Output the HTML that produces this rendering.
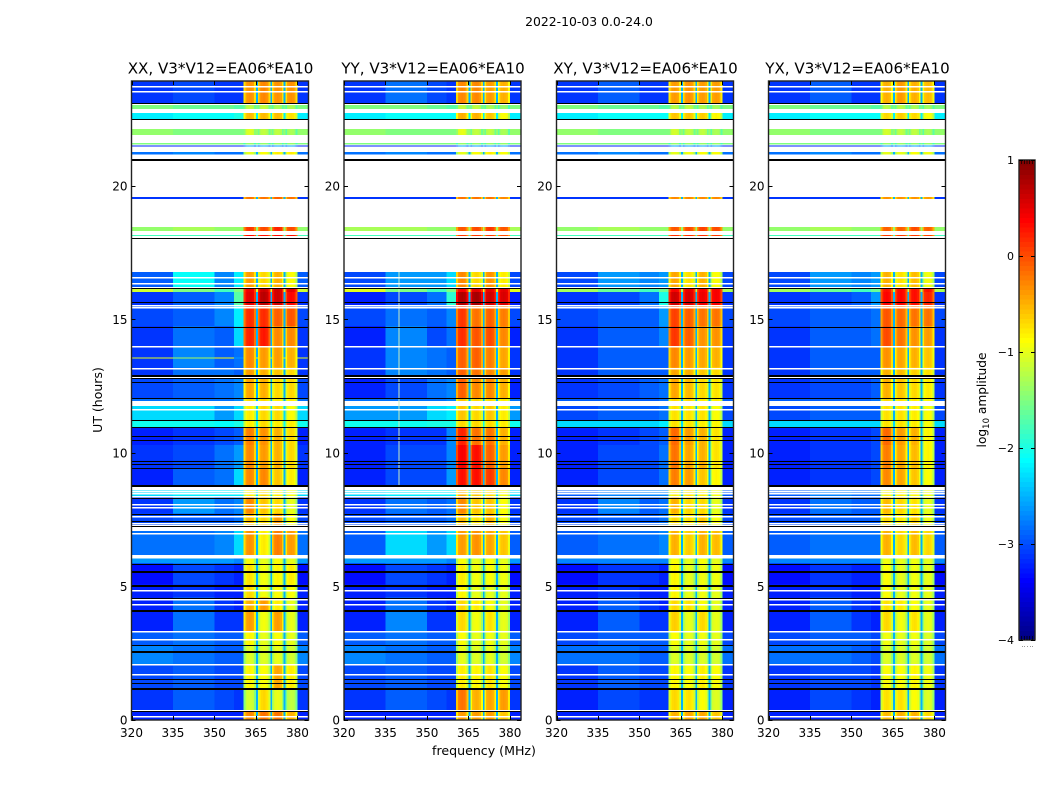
<!DOCTYPE html>
<html lang="en">
<head>
<meta charset="utf-8">
<title>2022-10-03 dynamic spectra</title>
<style>
html,body{margin:0;padding:0;background:#fff;width:1050px;height:800px;overflow:hidden}
svg{display:block}
text{font-family:"DejaVu Sans","Liberation Sans",sans-serif;fill:#000}
</style>
</head>
<body>
<svg id="figure" xmlns="http://www.w3.org/2000/svg" width="1050" height="800" viewBox="0 0 1050 800">
  <rect x="0" y="0" width="1050" height="800" fill="#fff"/>
  <text x="589" y="26" font-size="12.4" text-anchor="middle">2022-10-03 0.0-24.0</text>
  <text x="0" y="0" font-size="12.5" text-anchor="middle" transform="translate(102,400) rotate(-90)">UT (hours)</text>
  <text x="484" y="755" font-size="12.6" text-anchor="middle">frequency (MHz)</text>
  <text x="0" y="0" font-size="12.2" text-anchor="middle" transform="translate(986,400) rotate(-90)">log<tspan font-size="8.5" dy="3">10</tspan><tspan dy="-3"> amplitude</tspan></text>
  <g id="panels"></g>
  <g id="colorbar"></g>
</svg>
<script>
// ---- axis ranges and tick labels ----
const valueMin = -4;
const valueMax = 1;
const freqMin = 320;
const freqMax = 384;
const hourMin = 0;
const hourMax = 23.93;
const freqTicks = [320, 335, 350, 365, 380];
const hourTicks = [0, 5, 10, 15, 20];
const colorbarTicks = [1, 0, -1, -2, -3, -4];
const panelTitles = ['XX, V3*V12=EA06*EA10', 'YY, V3*V12=EA06*EA10', 'XY, V3*V12=EA06*EA10', 'YX, V3*V12=EA06*EA10'];

// ---- frequency structure (MHz) ----
const backgroundEdges = [320, 335, 350, 357, 360.5];
const bandEdges = [[360.5, 365], [365.6, 370.2], [370.7, 375], [375.6, 380]];
const gapEdges = [[365, 365.6], [370.2, 370.7], [375, 375.6]];
const rightEdges = [380, 384];
const bandShape = [-0.38, -0.06, 0, 0.03, 0, -0.06, -0.38];
const gapLevel = -2.5;
const rfiChannelYY = 340;
// quiet-sky levels below read about this much lower once the speckle is averaged by eye
const noiseFloorThreshold = -2.4;
const noiseFloorCorrection = -0.22;

// ---- time structure (UT hours): each entry is one observed block, top to bottom ----
const blockHours = [
[23.93,23.11],[23.03,22.88],[22.73,22.51],[22.13,21.91],[21.61,21.55],[21.51,21.47],[21.27,21.18],[19.58,19.51],
[18.46,18.31],[18.17,18.12],[16.77,16.21],[16.14,16.02],[16.02,15.54],[15.54,14.76],[14.76,14.0],[14.0,13.21],
[13.57,13.53],[13.21,12.87],[12.87,12.05],[12.05,11.95],[11.75,11.23],[11.23,10.96],[10.96,10.29],[10.29,9.43],
[9.43,8.79],[8.6,8.34],[8.34,7.74],[7.74,7.25],[7.07,6.17],[6.04,5.87],[5.87,5.08],[5.08,4.59],
[4.59,4.1],[4.1,3.32],[3.32,2.79],[2.79,2.08],[2.08,1.18],[1.18,0.37],[0.32,0]
];
const whiteLineHours = [23.76,23.56,16.59,16.37,15.56,15.45,14.01,13.2,12.85,11.66,8.58,8.5,8.4,8.1,7.98,7.63,7.38,7.32,7.0,4.85,4.54,4.36,3.32,3.04,2.08,1.73,0.14];
const blackLineHours = [23.1,22.51,18.04,16.19,15.66,14.72,12.79,12.64,12.06,11.25,10.97,10.63,10.48,9.7,9.57,9.42,8.33,7.73,7.44,7.25,5.85,4.58,2.79,1.52,1.37,0.33];
const thickBlackLineHours = [21.02,12.91,8.79,5.58,5.07,4.13,2.58,1.18];

// ---- log10 amplitude per block: [320-335, 335-350, 350-357, 357-360.5, band1, band2, band3, band4] ----
const levelsXX = [
[-2.9,-2.8,-2.9,-2.9,-0.35,-0.3,-0.35,-0.35],[-1.5,-1.6,-1.6,-1.7,-1.2,-1.2,-1.3,-1.3],[-2.2,-2.1,-2.1,-2.0,-0.55,-0.55,-0.55,-0.75],[-1.4,-1.5,-1.5,-1.5,-1.05,-1.2,-1.2,-1.3],
[-1.5,-1.5,-1.5,-1.5,-1.4,-1.4,-1.4,-1.4],[-3,-3,-3,-3,-2.6,-2.6,-2.6,-2.6],[-2.6,-2.5,-2.6,-2.6,-1,-0.9,-0.8,-0.8],[-2.9,-2.9,-2.9,-2.9,-0.2,-0.2,-0.1,-0.2],
[-1.4,-1.3,-1.4,-1.4,0.1,0,0.2,0],[-1.8,-1.8,-1.8,-1.8,0.35,0.3,0.35,0.3],[-2.7,-2.1,-2.5,-2.2,-0.4,-0.7,-0.5,-0.9],[-1.1,-1.5,-1.8,-1.5,0.45,0.6,0.6,0.5],
[-2.9,-2.7,-2.5,-1.7,0.5,0.7,0.6,0.35],[-2.8,-2.7,-2.5,-2.2,0.15,0.15,-0.1,-0.05],[-2.9,-2.6,-2.7,-2.3,0.2,0.25,-0.3,-0.3],[-2.9,-2.5,-2.7,-2.6,-0.3,-0.4,-0.4,-0.5],
[-1,-1.3,-0.9,-2.4,-0.3,-0.4,-0.4,-0.5],[-2.9,-2.6,-2.6,-2.7,-0.4,-0.5,-0.6,-0.7],[-2.8,-2.7,-2.6,-2.5,-0.45,-0.5,-0.7,-0.7],[-2.6,-2.6,-2.6,-2.5,-0.7,-0.7,-0.8,-0.8],
[-2.3,-2.3,-2.4,-2.3,-0.8,-0.7,-0.7,-0.9],[-2.05,-2.05,-2.1,-2,-0.8,-0.7,-0.8,-0.8],[-3,-2.9,-2.8,-2.7,-0.25,-0.35,-0.5,-0.7],[-2.9,-2.8,-2.6,-2.4,-0.3,-0.4,-0.5,-0.7],
[-3,-2.7,-2.6,-2.3,-0.3,-0.3,-0.6,-0.8],[-2.3,-2.2,-2.2,-2.2,-0.8,-0.7,-0.8,-0.9],[-2.9,-2.4,-2.6,-2.5,-0.3,-0.6,-0.7,-1],[-2.8,-2.7,-2.7,-2.6,-0.55,-0.7,-0.4,-0.9],
[-2.6,-2.6,-2.5,-2.3,-0.35,-0.8,-0.25,-0.4],[-2.4,-2.4,-2.4,-2.5,-0.9,-1,-0.9,-1],[-3.1,-2.8,-2.9,-3,-0.75,-0.95,-0.85,-0.8],[-3,-2.9,-3,-3,-0.7,-0.95,-0.9,-0.9],
[-3,-2.6,-2.9,-3,-0.5,-0.4,-0.8,-1],[-3,-2.6,-2.9,-2.9,-0.4,-0.95,-0.4,-1],[-2.7,-2.6,-2.7,-2.7,-0.85,-1,-0.9,-1],[-2.5,-2.6,-2.7,-2.7,-1.05,-1.05,-1,-1.1],
[-2.8,-2.7,-2.8,-2.8,-0.85,-0.9,-0.45,-0.8],[-2.9,-2.7,-2.8,-2.9,-1.1,-0.7,-1,-1.2],[-3,-3,-3,-3,-0.3,-0.2,-0.2,-0.5]
];
const levelsYY = [
[-2.9,-2.6,-2.8,-2.9,-0.3,-0.3,-0.4,-0.5],[-1.5,-1.5,-1.6,-1.7,-1.2,-1.2,-1.3,-1.4],[-2.2,-2.1,-2.1,-2.1,-0.5,-0.5,-0.6,-0.9],[-1.4,-1.5,-1.5,-1.5,-1,-1.2,-1.2,-1.3],
[-1.5,-1.5,-1.5,-1.5,-1.4,-1.4,-1.4,-1.4],[-3,-3,-3,-3,-2.6,-2.6,-2.6,-2.6],[-2.6,-2.5,-2.6,-2.6,-1,-0.9,-0.8,-0.9],[-2.9,-2.9,-2.9,-2.9,-0.2,-0.2,-0.2,-0.3],
[-1.3,-1.3,-1.4,-1.4,-0.05,0,0.1,-0.05],[-1.8,-1.8,-1.8,-1.8,0.1,0.1,0.1,0],[-2.8,-2.4,-2.4,-2.3,-0.3,-0.7,-0.35,-0.8],[-1,-1.5,-1.8,-1.5,0.4,0.5,0.5,0.5],
[-3,-2.8,-2.6,-1.9,0.75,0.8,0.6,0.55],[-2.8,-2.6,-2.7,-2.5,0.1,-0.2,-0.1,-0.25],[-3,-2.5,-2.8,-2.6,0.15,-0.05,0,-0.3],[-2.9,-2.5,-2.6,-2.7,-0.1,-0.1,-0.25,-0.45],
[-2.9,-2.5,-2.6,-2.7,-0.1,-0.1,-0.25,-0.45],[-2.9,-2.5,-2.6,-2.7,-0.1,-0.2,-0.3,-0.4],[-3,-2.8,-2.6,-2.5,-0.1,-0.3,-0.3,-0.5],[-2.6,-2.6,-2.6,-2.5,-0.6,-0.7,-0.7,-0.8],
[-2.4,-2.4,-2.3,-2.2,-0.6,-0.7,-0.6,-0.8],[-2.05,-2.05,-2,-2,-0.7,-0.7,-0.7,-0.8],[-3,-2.9,-2.9,-2.5,0.2,-0.2,-0.2,-0.5],[-3,-2.8,-2.8,-2.5,0.4,0.3,-0.1,-0.4],
[-3,-2.8,-2.8,-2.4,0.3,0.3,0.1,-0.3],[-2.3,-2.2,-2.2,-2.2,-0.5,-0.6,-0.7,-0.9],[-2.9,-2.6,-2.7,-2.6,-0.3,-0.6,-0.6,-0.9],[-2.8,-2.7,-2.7,-2.6,-0.55,-0.75,-0.5,-0.9],
[-2.7,-2.3,-2.4,-2.3,-0.4,-0.35,-0.45,-0.6],[-2.4,-2.4,-2.4,-2.5,-0.9,-1,-0.9,-1],[-3.1,-2.8,-2.9,-3,-0.8,-0.95,-0.9,-0.95],[-3,-2.9,-3,-3,-0.85,-1,-1,-1],
[-3,-2.6,-2.9,-3,-0.7,-0.8,-0.9,-1],[-3,-2.5,-2.9,-2.9,-0.7,-0.95,-0.75,-1],[-2.7,-2.6,-2.7,-2.7,-0.9,-1,-0.95,-1],[-2.5,-2.6,-2.7,-2.7,-1,-1.05,-1,-1.1],
[-2.8,-2.7,-2.8,-2.8,-0.8,-0.85,-0.75,-0.9],[-2.9,-2.7,-2.8,-2.9,-0.2,-0.5,-0.45,-0.4],[-3,-3,-3,-3,-0.4,-0.4,-0.4,-0.6]
];
const levelsXY = [
[-2.9,-2.7,-2.9,-2.9,-0.4,-0.35,-0.4,-0.4],[-1.5,-1.6,-1.6,-1.7,-1.25,-1.2,-1.3,-1.35],[-2.2,-2.1,-2.1,-2.1,-0.6,-0.6,-0.65,-0.85],[-1.4,-1.5,-1.5,-1.5,-1.1,-1.2,-1.2,-1.3],
[-1.5,-1.5,-1.5,-1.5,-1.4,-1.4,-1.4,-1.4],[-3,-3,-3,-3,-2.6,-2.6,-2.6,-2.6],[-2.6,-2.5,-2.6,-2.6,-1,-0.95,-0.9,-0.9],[-2.9,-2.9,-2.9,-2.9,-0.3,-0.3,-0.3,-0.3],
[-1.4,-1.3,-1.4,-1.4,-0.05,0,0.05,0],[-1.8,-1.8,-1.8,-1.8,0.15,0.15,0.15,0.1],[-2.8,-2.4,-2.5,-2.4,-0.45,-0.75,-0.5,-0.9],[-1.3,-1.6,-1.8,-1.6,0.4,0.5,0.4,0.4],
[-2.9,-2.8,-2.6,-2,0.6,0.55,0.45,0.4],[-2.8,-2.7,-2.7,-2.4,0.05,-0.1,-0.2,-0.2],[-2.9,-2.7,-2.7,-2.5,0.1,-0.1,-0.35,-0.35],[-2.9,-2.7,-2.7,-2.7,-0.3,-0.4,-0.45,-0.5],
[-2.9,-2.7,-2.7,-2.7,-0.3,-0.4,-0.45,-0.5],[-2.9,-2.7,-2.7,-2.7,-0.45,-0.5,-0.6,-0.7],[-2.9,-2.8,-2.7,-2.6,-0.45,-0.55,-0.7,-0.75],[-2.7,-2.7,-2.7,-2.6,-0.7,-0.7,-0.8,-0.8],
[-2.8,-2.7,-2.7,-2.6,-0.75,-0.75,-0.75,-0.9],[-2.3,-2.3,-2.3,-2.2,-0.75,-0.75,-0.8,-0.85],[-3,-2.9,-2.8,-2.7,-0.15,-0.4,-0.5,-0.75],[-3,-2.8,-2.8,-2.6,-0.2,-0.45,-0.5,-0.75],
[-3,-2.8,-2.8,-2.6,-0.25,-0.4,-0.6,-0.85],[-2.7,-2.5,-2.5,-2.5,-0.8,-0.75,-0.8,-0.9],[-2.9,-2.5,-2.7,-2.6,-0.5,-0.7,-0.7,-1],[-2.8,-2.7,-2.7,-2.6,-0.7,-0.75,-0.6,-0.9],
[-2.7,-2.6,-2.6,-2.5,-0.5,-0.65,-0.5,-0.55],[-2.5,-2.5,-2.5,-2.5,-0.9,-1,-0.9,-1],[-3.1,-2.9,-2.9,-3,-0.85,-1,-0.95,-0.95],[-3,-2.9,-3,-3,-0.85,-1,-0.95,-1],
[-3,-2.7,-2.9,-3,-0.7,-0.75,-0.9,-1],[-3,-2.7,-2.9,-2.9,-0.65,-1,-0.7,-1],[-2.8,-2.7,-2.7,-2.7,-0.9,-1,-0.95,-1],[-2.6,-2.6,-2.7,-2.7,-1.05,-1.05,-1.05,-1.1],
[-2.9,-2.7,-2.8,-2.8,-0.85,-0.9,-0.8,-0.9],[-3,-2.8,-2.9,-2.9,-0.7,-0.75,-0.9,-1.05],[-3,-3,-3,-3,-0.5,-0.45,-0.45,-0.6]
];
const levelsYX = [
[-2.9,-2.7,-2.9,-2.9,-0.5,-0.4,-0.5,-0.55],[-1.5,-1.6,-1.6,-1.7,-1.25,-1.25,-1.3,-1.35],[-2.2,-2.1,-2.1,-2.1,-0.7,-0.65,-0.7,-0.9],[-1.4,-1.5,-1.5,-1.5,-1.1,-1.2,-1.2,-1.3],
[-1.5,-1.5,-1.5,-1.5,-1.4,-1.4,-1.4,-1.4],[-3,-3,-3,-3,-2.6,-2.6,-2.6,-2.6],[-2.6,-2.5,-2.6,-2.6,-1,-1,-0.9,-0.95],[-2.9,-2.9,-2.9,-2.9,-0.35,-0.35,-0.35,-0.4],
[-1.4,-1.3,-1.4,-1.4,-0.1,-0.1,0,-0.1],[-1.8,-1.8,-1.8,-1.8,0.1,0.1,0.1,0.05],[-2.8,-2.4,-2.5,-2.4,-0.5,-0.75,-0.55,-0.95],[-1.3,-1.6,-1.8,-1.6,0.3,0.35,0.3,0.3],
[-2.9,-2.8,-2.7,-2.4,0.35,0.35,0.3,0.2],[-2.8,-2.7,-2.7,-2.6,-0.05,-0.15,-0.2,-0.2],[-2.9,-2.7,-2.7,-2.6,0,-0.2,-0.35,-0.4],[-2.9,-2.7,-2.7,-2.7,-0.35,-0.45,-0.5,-0.6],
[-2.9,-2.7,-2.7,-2.7,-0.35,-0.45,-0.5,-0.6],[-2.9,-2.7,-2.7,-2.7,-0.5,-0.55,-0.65,-0.75],[-2.9,-2.8,-2.8,-2.7,-0.5,-0.6,-0.7,-0.8],[-2.7,-2.7,-2.7,-2.6,-0.7,-0.75,-0.8,-0.85],
[-2.8,-2.7,-2.7,-2.7,-0.75,-0.75,-0.8,-0.9],[-2.3,-2.3,-2.3,-2.3,-0.75,-0.75,-0.8,-0.9],[-3,-2.9,-2.9,-2.8,-0.15,-0.4,-0.5,-0.85],[-3,-2.9,-2.9,-2.8,-0.25,-0.45,-0.55,-0.85],
[-3,-2.9,-2.9,-2.8,-0.3,-0.45,-0.6,-0.9],[-2.7,-2.5,-2.6,-2.6,-0.8,-0.8,-0.85,-0.95],[-2.9,-2.6,-2.7,-2.7,-0.55,-0.7,-0.75,-1],[-2.8,-2.7,-2.7,-2.7,-0.7,-0.8,-0.65,-0.95],
[-2.7,-2.6,-2.6,-2.6,-0.5,-0.7,-0.55,-0.7],[-2.5,-2.5,-2.5,-2.5,-0.95,-1,-0.95,-1],[-3.1,-2.9,-3,-3,-0.9,-1,-0.95,-1],[-3,-2.9,-3,-3,-0.9,-1,-0.95,-1],
[-3,-2.7,-2.9,-3,-0.75,-0.8,-0.9,-1],[-3,-2.7,-2.9,-3,-0.7,-0.95,-0.75,-1],[-2.8,-2.7,-2.7,-2.8,-0.95,-1,-0.95,-1.05],[-2.6,-2.6,-2.7,-2.8,-1.05,-1.05,-1.05,-1.1],
[-2.9,-2.8,-2.8,-2.9,-0.9,-0.9,-0.85,-0.95],[-3,-2.8,-2.9,-3,-0.75,-0.75,-0.9,-1.05],[-3,-3,-3,-3,-0.55,-0.5,-0.5,-0.7]
];
const panelLevels = [levelsXX, levelsYY, levelsXY, levelsYX];

// ---- layout ----
const SVG_NS = 'http://www.w3.org/2000/svg';
const panelLefts = [131.5, 344, 556.5, 768.5];
const panelWidth = 177;
const panelTop = 81;
const panelBottom = 720;
const barLeft = 1019;
const barRight = 1035;
const barTop = 160;
const barBottom = 640;
const barSteps = 100;
const panelsRoot = document.getElementById('panels');
const barRoot = document.getElementById('colorbar');

function make(tag, attrs, parent, text) {
  const el = document.createElementNS(SVG_NS, tag);
  for (const key in attrs) el.setAttribute(key, attrs[key]);
  if (text !== undefined) el.textContent = text;
  parent.appendChild(el);
  return el;
}
function clamp01(t) { return Math.max(0, Math.min(1, t)); }
function jet(value) {
  const t = clamp01((value - valueMin) / (valueMax - valueMin));
  const r = clamp01(Math.min(4 * t - 1.5, -4 * t + 4.5));
  const g = clamp01(Math.min(4 * t - 0.5, -4 * t + 3.5));
  const b = clamp01(Math.min(4 * t + 0.5, -4 * t + 2.5));
  return 'rgb(' + Math.round(r * 255) + ',' + Math.round(g * 255) + ',' + Math.round(b * 255) + ')';
}
function floorLevel(level) {
  return level <= noiseFloorThreshold ? level + noiseFloorCorrection : level;
}
function yOfHour(hour) {
  return panelBottom - (hour - hourMin) / (hourMax - hourMin) * (panelBottom - panelTop);
}
function xOfFreq(freq, left) {
  return left + (freq - freqMin) / (freqMax - freqMin) * panelWidth;
}
function yOfValue(value) {
  return barBottom - (value - valueMin) / (valueMax - valueMin) * (barBottom - barTop);
}
function tickLabel(value) {
  return value < 0 ? '\u2212' + Math.abs(value) : String(value);
}
function drawCell(group, left, f0, f1, top, bottom, value, overlap) {
  const x0 = xOfFreq(f0, left);
  const x1 = xOfFreq(f1, left);
  const cell = make('rect', { x: x0, y: top, width: x1 - x0 + overlap, height: bottom - top, fill: jet(value), 'shape-rendering': 'crispEdges' }, group);
  
  
}

panelTitles.forEach(function (title, p) {
  const left = panelLefts[p];
  const right = left + panelWidth;
  const levels = panelLevels[p];
  const group = make('g', {}, panelsRoot);
  
  

  const heat = make('g', {}, group);
  
  

  blockHours.forEach(function (span, r) {
    const top = yOfHour(span[0]);
    const bottom = yOfHour(span[1]);
    const row = levels[r];
    for (let c = 0; c < 4; c++) {
      drawCell(heat, left, backgroundEdges[c], backgroundEdges[c + 1], top, bottom, floorLevel(row[c]), 0.6);
    }
    bandEdges.forEach(function (edges, b) {
      const step = (edges[1] - edges[0]) / bandShape.length;
      bandShape.forEach(function (offset, s) {
        drawCell(heat, left, edges[0] + s * step, edges[0] + (s + 1) * step, top, bottom, row[4 + b] + offset, 0.6);
      });
    });
    gapEdges.forEach(function (edges) {
      drawCell(heat, left, edges[0], edges[1], top, bottom, Math.max(gapLevel, floorLevel(row[0])), 0.2);
    });
    drawCell(heat, left, rightEdges[0], rightEdges[1], top, bottom, floorLevel(row[0]), 0);
  });

  if (p === 1) {
    const rfiX = Math.round(xOfFreq(rfiChannelYY, left));
    const rfi = make('line', { x1: rfiX, x2: rfiX, y1: yOfHour(16.77), y2: yOfHour(8.79), stroke: '#c8ecc0', 'stroke-width': 1, 'shape-rendering': 'crispEdges' }, heat);
    
    
  }

  whiteLineHours.forEach(function (hour) {
    const line = make('rect', { x: left, y: Math.round(yOfHour(hour)), width: panelWidth, height: 1.5, fill: '#fff', 'shape-rendering': 'crispEdges' }, group);
    
    
  });
  blackLineHours.forEach(function (hour) {
    const line = make('rect', { x: left, y: Math.round(yOfHour(hour)), width: panelWidth, height: 1, fill: '#000', 'shape-rendering': 'crispEdges' }, group);
    
    
  });
  thickBlackLineHours.forEach(function (hour) {
    const line = make('rect', { x: left, y: Math.round(yOfHour(hour)), width: panelWidth, height: 2, fill: '#000', 'shape-rendering': 'crispEdges' }, group);
    
    
  });

  const frame = make('rect', { x: left, y: panelTop, width: panelWidth, height: panelBottom - panelTop, fill: 'none', stroke: '#222', 'stroke-width': 1.4 }, group);
  
  

  freqTicks.forEach(function (freq) {
    const x = Math.round(xOfFreq(freq, left)) + 0.5;
    const tickBottom = make('line', { x1: x, x2: x, y1: panelBottom, y2: panelBottom - 4, stroke: '#000' }, group);
    
    
    const tickTop = make('line', { x1: x, x2: x, y1: panelTop, y2: panelTop + 4, stroke: '#000' }, group);
    
    
    const label = make('text', { x: xOfFreq(freq, left), y: 737, 'font-size': 12, 'text-anchor': 'middle' }, group, String(freq));
    
    
  });
  hourTicks.forEach(function (hour) {
    const y = Math.round(yOfHour(hour)) + 0.5;
    const tickLeft = make('line', { x1: left, x2: left + 4, y1: y, y2: y, stroke: '#000' }, group);
    
    
    const tickRight = make('line', { x1: right, x2: right - 4, y1: y, y2: y, stroke: '#000' }, group);
    
    
    const label = make('text', { x: left - 4, y: yOfHour(hour) + 4.5, 'font-size': 12, 'text-anchor': 'end' }, group, String(hour));
    
    
  });

  const heading = make('text', { x: left + panelWidth / 2 + 0.5, y: 73.5, 'font-size': 15.1, 'text-anchor': 'middle' }, group, title);
  
  
});

// ---- colorbar ----
for (let i = 0; i < barSteps; i++) {
  const v0 = valueMin + i * (valueMax - valueMin) / barSteps;
  const v1 = valueMin + (i + 1) * (valueMax - valueMin) / barSteps;
  const swatch = make('rect', { x: barLeft, y: yOfValue(v1), width: barRight - barLeft, height: yOfValue(v0) - yOfValue(v1) + 0.5, fill: jet((v0 + v1) / 2), 'shape-rendering': 'crispEdges' }, barRoot);
  
  
}
const barFrame = make('rect', { x: barLeft, y: barTop, width: barRight - barLeft, height: barBottom - barTop, fill: 'none', stroke: '#222', 'stroke-width': 1.4 }, barRoot);



colorbarTicks.forEach(function (value) {
  const y = Math.round(yOfValue(value)) + 0.5;
  const leftTick = make('line', { x1: barLeft, x2: barLeft + 4, y1: y, y2: y, stroke: '#000' }, barRoot);
  
  
  const rightTick = make('line', { x1: barRight, x2: barRight - 4, y1: y, y2: y, stroke: '#000' }, barRoot);
  
  
  const label = make('text', { x: barLeft - 5, y: yOfValue(value) + 4, 'font-size': 11, 'text-anchor': 'end' }, barRoot, tickLabel(value));
  
  
});

for (let m = 1; m <= 5; m++) {
  const x = barLeft + m * (barRight - barLeft) / 6;
  const minorTop = make('line', { x1: x, x2: x, y1: barTop, y2: barTop + 4, stroke: '#000', 'stroke-width': 0.7 }, barRoot);
  
  
  const minorBottom = make('line', { x1: x, x2: x, y1: barBottom, y2: barBottom - 4, stroke: '#000', 'stroke-width': 0.7 }, barRoot);
  
  
  const dot = make('rect', { x: Math.round(x), y: 646, width: 1, height: 1, fill: '#999' }, barRoot);
  
  
}
</script>
</body>
</html>
